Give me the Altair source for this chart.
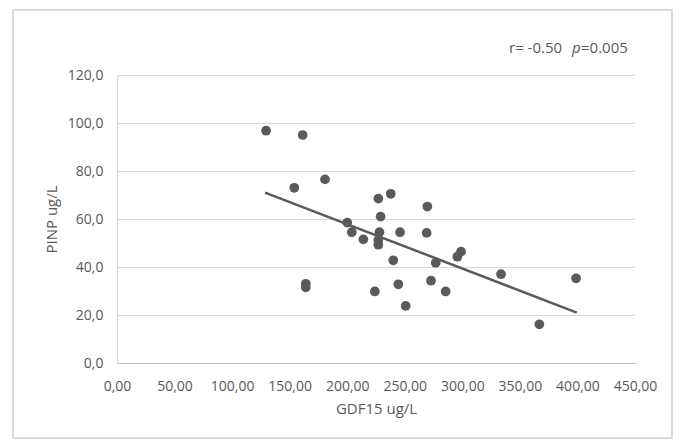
import altair as alt
import pandas as pd

# Scatter data
gdf15 = [129.5, 161.3, 154.0, 180.7, 164.0, 164.0, 200.0, 204.0, 214.0, 227.0,
         237.8, 229.0, 228.0, 227.0, 227.0, 245.9, 269.6, 269.0, 240.0, 224.0,
         244.4, 250.8, 276.9, 272.8, 285.5, 295.7, 298.9, 333.6, 366.9, 398.8]
pinp = [96.8, 95.0, 73.0, 76.5, 33.0, 31.5, 58.5, 54.5, 51.5, 68.5,
        70.5, 61.0, 54.5, 51.3, 49.3, 54.5, 65.2, 54.2, 42.8, 29.8,
        32.8, 23.8, 41.8, 34.3, 29.8, 44.3, 46.4, 37.0, 16.1, 35.3]

# Trend line endpoints
trend_x = [128.6, 399.4]
trend_y = [71.0, 21.0]

x_ticks = [0, 50, 100, 150, 200, 250, 300, 350, 400, 450]
y_ticks = [0, 20, 40, 60, 80, 100, 120]

pts = pd.DataFrame({"x": gdf15, "y": pinp})
trend = pd.DataFrame({"x": trend_x, "y": trend_y})

FONT = "Open Sans"
GRAY = "#595959"

xscale = alt.Scale(domain=[0, 450], nice=False, zero=True)
yscale = alt.Scale(domain=[0, 120], nice=False, zero=True)

xaxis = alt.Axis(values=x_ticks, title="GDF15 ug/L", grid=False,
                 labelExpr="replace(format(datum.value, '.2f'), '.', ',')",
                 ticks=False, domainColor="#bfbfbf", domainWidth=1,
                 labelFlush=False, labelOverlap=False,
                 labelFont=FONT, titleFont=FONT, labelFontSize=14, titleFontSize=15,
                 labelColor=GRAY, titleColor=GRAY, titleFontWeight="normal",
                 labelPadding=16, titlePadding=8)
yaxis = alt.Axis(values=y_ticks, title="PINP ug/L", grid=True, gridColor="#d9d9d9",
                 labelExpr="replace(format(datum.value, '.1f'), '.', ',')",
                 ticks=False, domainColor="#d9d9d9", domainWidth=1,
                 labelFlush=False, labelOverlap=False,
                 labelFont=FONT, titleFont=FONT, labelFontSize=14, titleFontSize=15,
                 labelColor=GRAY, titleColor=GRAY, titleFontWeight="normal",
                 labelPadding=14, titlePadding=8)

points = alt.Chart(pts).mark_circle(size=95, opacity=1, color="#5a5a5a").encode(
    x=alt.X("x:Q", scale=xscale, axis=xaxis),
    y=alt.Y("y:Q", scale=yscale, axis=yaxis),
)

line = alt.Chart(trend).mark_line(color="#5a5a5a", strokeWidth=2.5).encode(
    x=alt.X("x:Q", scale=xscale),
    y=alt.Y("y:Q", scale=yscale),
)

frame = alt.Chart(pd.DataFrame({"a": [0]})).mark_rect(
    fill="transparent", stroke="#d9d9d9", strokeWidth=2
).encode(x=alt.value(-104), x2=alt.value(555), y=alt.value(-65), y2=alt.value(363))

ann_common = dict(fontSize=15, font=FONT, color=GRAY, align="left", baseline="middle")
t1 = alt.Chart(pd.DataFrame({"t": ["r= -0.50"]})).mark_text(**ann_common).encode(
    text="t:N", x=alt.value(392), y=alt.value(-27))
t2 = alt.Chart(pd.DataFrame({"t": ["p"]})).mark_text(fontStyle="italic", **ann_common).encode(
    text="t:N", x=alt.value(455), y=alt.value(-27))
t3 = alt.Chart(pd.DataFrame({"t": ["=0.005"]})).mark_text(**ann_common).encode(
    text="t:N", x=alt.value(464), y=alt.value(-27))

chart = alt.layer(frame, line, points, t1, t2, t3).properties(
    width=518, height=288,
    padding={"left": 109, "top": 67, "right": 38, "bottom": 77},
    autosize=alt.AutoSizeParams(type="none"),
    background="white",
).configure_view(stroke=None)

chart.save("out.html", embed_options={"renderer": "svg", "actions": False})
